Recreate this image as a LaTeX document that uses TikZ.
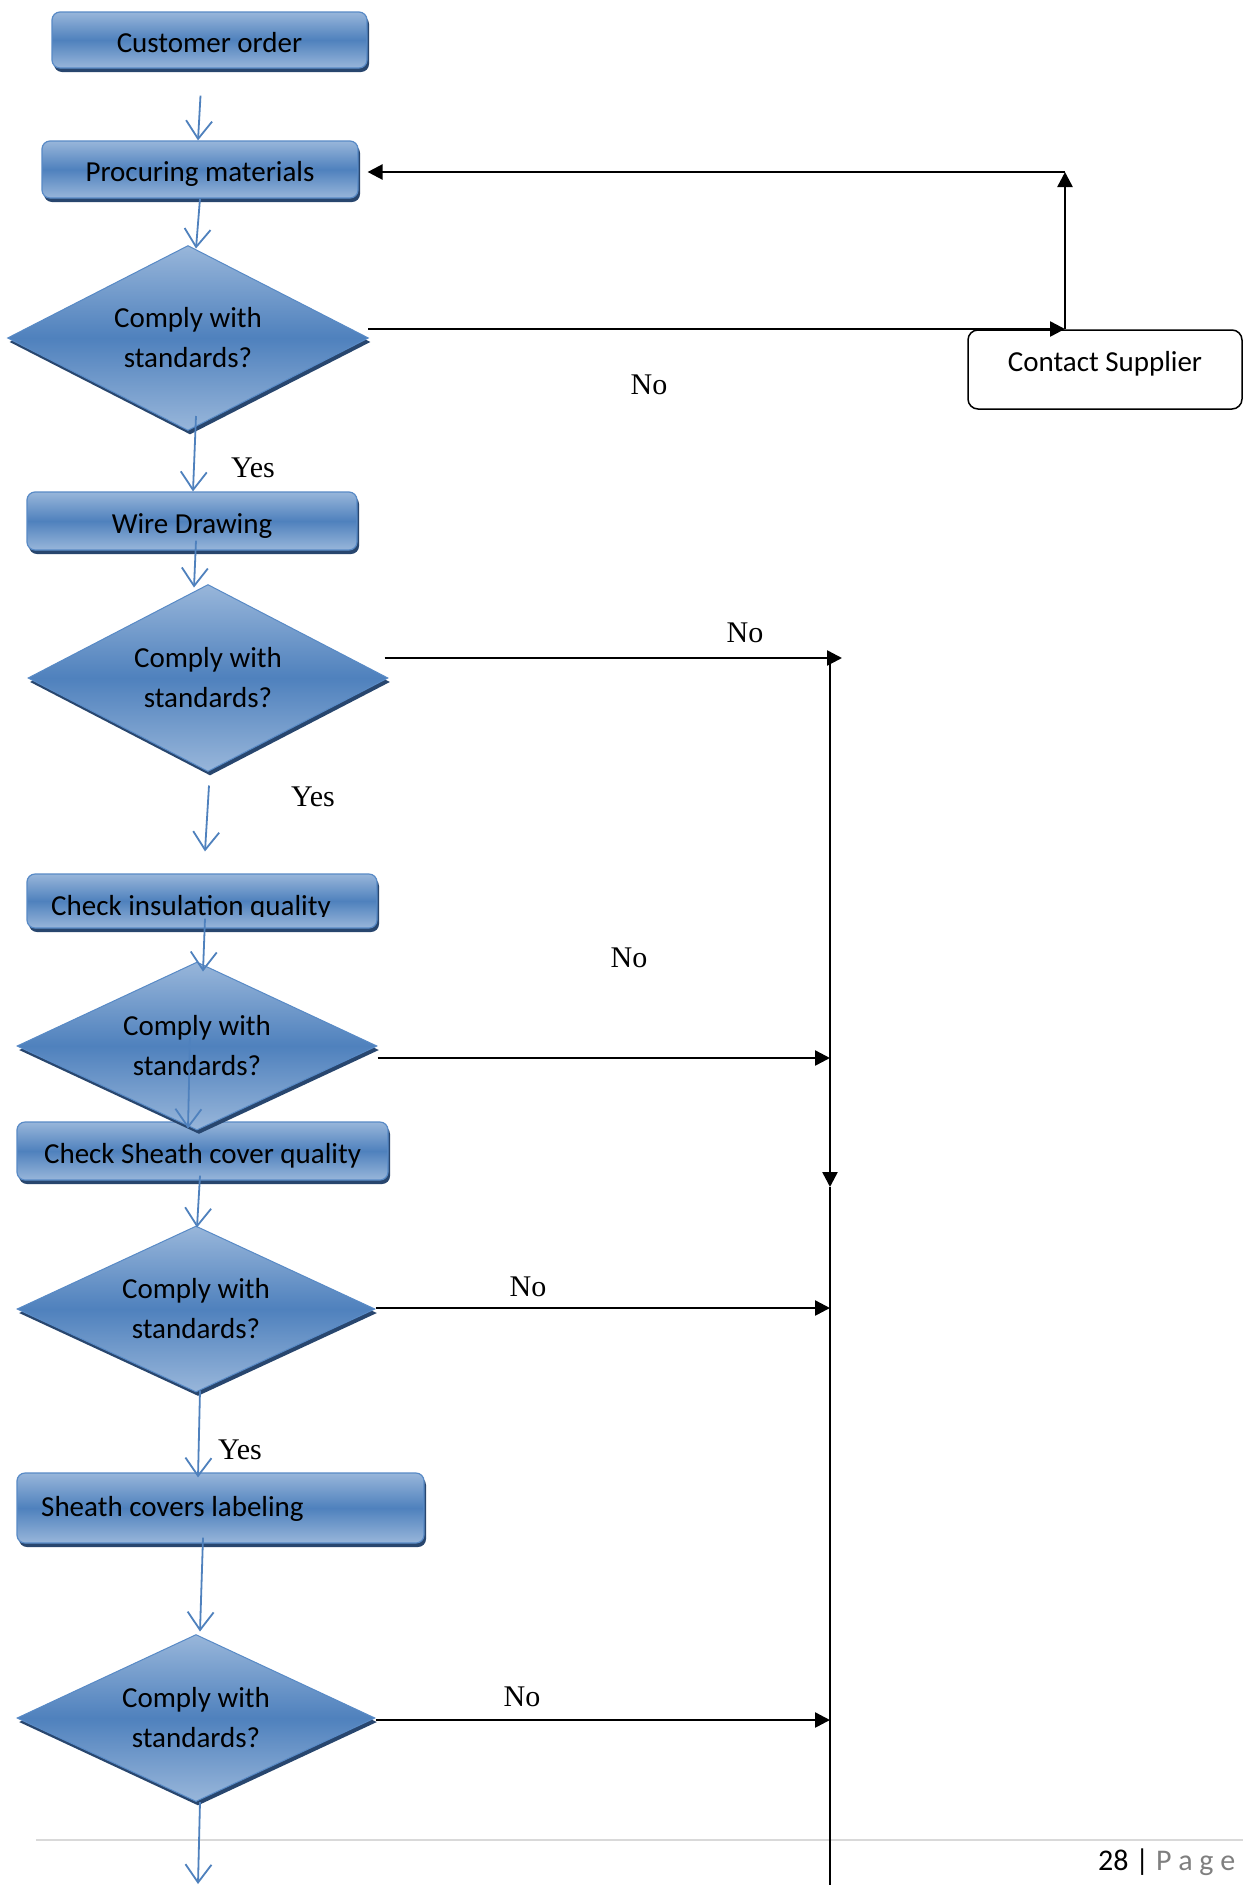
\documentclass[tikz,border=0pt]{standalone}
\usepackage{fontspec}
\setmainfont{Carlito}
\newfontfamily\answerfont{Liberation Serif}
\usetikzlibrary{arrows.meta,shapes.geometric,shadows,calc}

\definecolor{boxlight}{RGB}{152,182,218}
\definecolor{boxmid}{RGB}{79,129,189}
\definecolor{boxedge}{RGB}{88,138,198}
\definecolor{boxshade}{RGB}{40,70,110}
\definecolor{flowblue}{RGB}{79,129,189}
\definecolor{rulegray}{RGB}{217,217,217}
\definecolor{pagegray}{RGB}{127,127,127}

\tikzset{
  stepbox/.style={draw=boxedge, line width=1.2pt, rounded corners=8pt,
    top color=boxlight, bottom color=boxlight, middle color=boxmid,
    drop shadow={shadow xshift=2pt, shadow yshift=-4pt, fill=boxshade, opacity=1},
    inner sep=0pt, text height=27pt, text depth=3pt,
    font=\fontsize{29}{35}\selectfont},
  steptext/.style={inner sep=0pt, font=\fontsize{29}{35}\selectfont},
  decision/.style={diamond, aspect=2, draw=boxedge, line width=1pt,
    top color=boxlight, bottom color=boxlight, middle color=boxmid,
    drop shadow={shadow xshift=2pt, shadow yshift=-4pt, fill=boxshade, opacity=1},
    inner sep=0pt, align=center, font=\fontsize{29}{40}\selectfont},
  flow/.style={draw=flowblue, line width=1.8pt,
    -{Straight Barb[length=18pt,width=26pt]}},
  noflow/.style={draw=black, line width=2.5pt,
    -{Triangle[length=15pt,width=15pt]}},
  answer/.style={font=\answerfont\fontsize{30}{30}\selectfont, inner sep=0pt},
}

\begin{document}
\begin{tikzpicture}[x=1pt,y=-1pt]
  \useasboundingbox (0,0) rectangle (1243,1885);
  \fill[white] (0,0) rectangle (1243,1885);

  % footer rule and page number
  \draw[rulegray, line width=1.5pt] (36,1840) -- (1243,1840);
  \node[anchor=base west, inner sep=0pt, font=\fontsize{30}{30}\selectfont] (pg)
    at (1098,1870) {28 | \textcolor{pagegray}{P a g e}};

  % process steps and decisions
  \node[stepbox, minimum width=315pt, minimum height=56pt] (cust) at (209.5,40) {Customer order};
  \node[stepbox, minimum width=316pt, minimum height=57pt] (proc) at (200,169.5) {Procuring materials};
  \node[decision, minimum width=361pt, minimum height=185pt] (d1) at (188,338) {Comply with\\standards?};
  \node[stepbox, minimum width=330pt, minimum height=58pt] (wire) at (192,521) {Wire Drawing};
  \node[decision, minimum width=360pt, minimum height=187pt] (d2) at (208,678) {Comply with\\standards?};
  \node[stepbox, minimum width=350pt, minimum height=54pt] (ins) at (202,901) {};
  \begin{scope}
    \clip (27,874) rectangle (377,916.5);
    \node[steptext, anchor=base] (instext) at (191,915) {Check insulation quality};
  \end{scope}
  \node[stepbox, minimum width=371pt, minimum height=58pt] (shq) at (202.5,1151) {Check Sheath cover quality};
  \node[decision, minimum width=360pt, minimum height=168pt] (d3) at (197,1046) {Comply with\\standards?};
  \node[decision, minimum width=358pt, minimum height=166pt] (d4) at (196,1309) {Comply with\\standards?};
  \node[stepbox, minimum width=407pt, minimum height=70pt] (lab) at (220.5,1508) {};
  \node[steptext, anchor=base west] (labtext) at (41,1516) {Sheath covers labeling};
  \node[decision, minimum width=358pt, minimum height=167pt] (d5) at (196,1718) {Comply with\\standards?};

  \node[draw=black, line width=1.5pt, rounded corners=10pt, fill=white,
        minimum width=274pt, minimum height=79pt, inner sep=0pt, text depth=16pt,
        font=\fontsize{29}{35}\selectfont] (sup) at (1105,369.5) {Contact Supplier};

  % main flow (blue)
  \draw[flow] ([xshift=-9pt,yshift=-27pt]cust.south) -- ([xshift=-2pt]proc.north);
  \draw[flow] (proc.south) -- ([xshift=8pt,yshift=-3.5pt]d1.north);
  \draw[flow] ([xshift=8pt,yshift=15pt]d1.south) -- ([xshift=1pt]wire.north);
  \draw[flow] ([xshift=4pt,yshift=10pt]wire.south) -- ([xshift=-14pt,yshift=-3.5pt]d2.north);
  \draw[flow] ([xshift=1pt,yshift=-13.5pt]d2.south) -- ([xshift=3pt,yshift=22pt]ins.north);
  \draw[flow] ([xshift=3pt,yshift=10pt]ins.south) -- ([xshift=6pt,yshift=-10pt]d3.north);
  \draw[flow] ([xshift=-7pt,yshift=9pt]d3.center) -- ([xshift=-9pt,yshift=2pt]d3.south);
  \draw[flow] ([xshift=-2.5pt,yshift=5pt]shq.south) -- ([xshift=1pt,yshift=-2pt]d4.north);
  \draw[flow] ([xshift=4pt,yshift=2pt]d4.south) -- ([xshift=-22.5pt,yshift=-5pt]lab.north);
  \draw[flow] ([xshift=-17.5pt,yshift=6pt]lab.south) -- ([xshift=4pt,yshift=2.5pt]d5.north);
  \coordinate (tail) at (198,1884);
  \draw[flow] ([xshift=4pt]d5.south) -- (tail);

  % rejection paths (black)
  \coordinate (k1) at (1065,329);
  \coordinate (k2) at (1065,172);
  \draw[noflow] ([xshift=-1pt,yshift=9pt]d1.east) -- (k1);
  \draw[noflow] (k1) -- (k2);
  \draw[noflow] (k2) -- ([xshift=9pt,yshift=-2.5pt]proc.east);

  \coordinate (t0) at (830,660);
  \coordinate (tmid) at (830,1187);
  \coordinate (tend) at (830,1885);
  \coordinate (k4) at (842,658);
  \draw[noflow] ([xshift=-4pt,yshift=20pt]d2.east) -- (k4);
  \draw[noflow] (t0) -- (tmid);
  \draw[line width=2.5pt] (tmid) -- (tend);
  \draw[noflow] ([yshift=-12pt]d3.east) coordinate (r3) -- (r3 -| t0);
  \draw[noflow] ([yshift=1pt]d4.east) coordinate (r4) -- (r4 -| t0);
  \draw[noflow] ([yshift=-2pt]d5.east) coordinate (r5) -- (r5 -| t0);

  % answers
  \node[answer] (yes1) at (253,468) {Yes};
  \node[answer] (yes2) at (313,797) {Yes};
  \node[answer] (yes3) at (240,1450) {Yes};
  \node[answer] (no1) at (649,385) {No};
  \node[answer] (no2) at (745,633) {No};
  \node[answer] (no3) at (629,958) {No};
  \node[answer] (no4) at (528,1287) {No};
  \node[answer] (no5) at (522,1697) {No};
\end{tikzpicture}
\end{document}
